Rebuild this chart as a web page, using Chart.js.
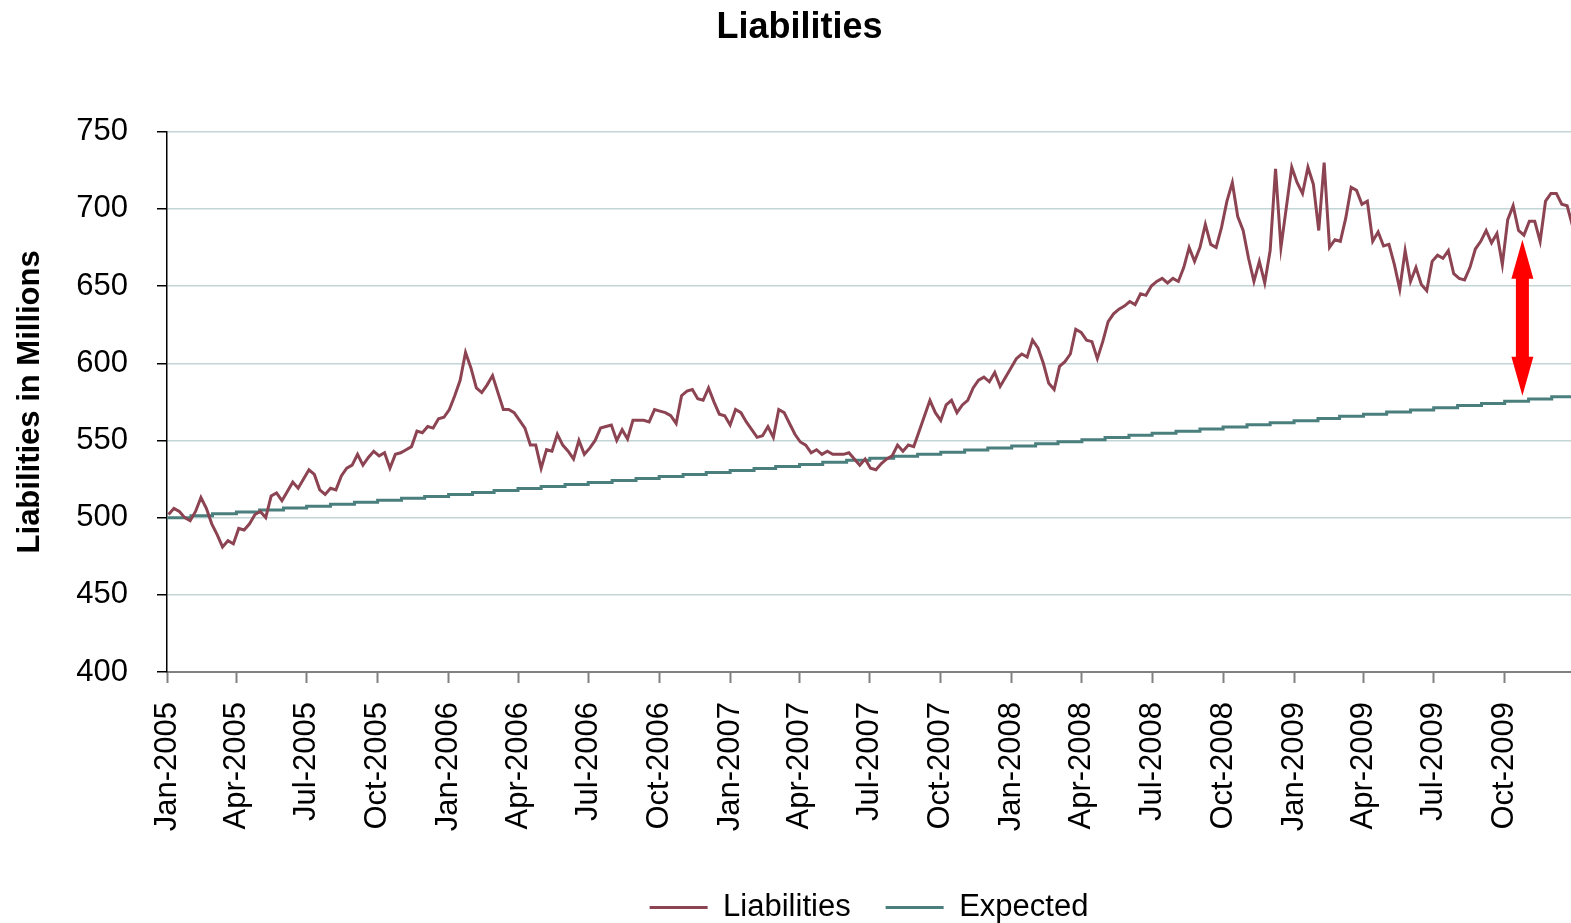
<!DOCTYPE html>
<html lang="en">
<head>
  <meta charset="UTF-8">
  <title>Liabilities</title>
  <script src="https://cdn.jsdelivr.net/npm/chart.js"></script>
  <style>
    html, body { margin: 0; padding: 0; background: #fff; }
    canvas { display: block; }
  </style>
</head>
<body>
  <canvas id="liabChart" width="1571" height="923"></canvas>
  <script>
    // weekly liabilities readings, starting 3 Jan 2005 (one value per week)
    const weekStep = 7;
    const liabilities = [
      502, 506, 504, 500, 498, 504, 513, 506, 496, 489,
      481, 485, 483, 493, 492, 496, 502, 504, 500, 514,
      516, 511, 517, 523, 519, 525, 531, 528, 518, 515,
      519, 518, 527, 532, 534, 541, 534, 539, 543, 540,
      542, 532, 541, 542, 544, 546, 556, 555, 559, 558,
      564, 565, 570, 579, 589, 607, 597, 584, 581, 586,
      592, 581, 570, 570, 568, 563, 558, 547, 547, 532,
      544, 543, 554, 547, 543, 538, 550, 541, 545, 550,
      558, 559, 560, 550, 557, 551, 563, 563, 563, 562,
      570, 569, 568, 566, 561, 579, 582, 583, 577, 576,
      584, 575, 567, 566, 560, 570, 568, 562, 557, 552,
      553, 559, 552, 570, 568, 561, 554, 549, 547, 542,
      544, 541, 543, 541, 541, 541, 542, 538, 534, 538,
      532, 531, 535, 538, 540, 547, 543, 547, 546, 556,
      566, 576, 568, 563, 573, 576, 568, 573, 576, 584,
      589, 591, 588, 594, 585, 591, 597, 603, 606, 604,
      615, 610, 600, 587, 583, 598, 601, 606, 622, 620,
      615, 614, 603, 614, 627, 632, 635, 637, 640, 638,
      645, 644, 650, 653, 655, 652, 655, 653, 662, 675,
      666, 675, 690, 677, 675, 688, 705, 717, 695, 686,
      668, 653, 666, 652, 673, 726, 675, 701, 727, 717,
      710, 727, 716, 686, 730, 675, 680, 679, 694, 714,
      712, 703, 705, 679, 685, 676, 677, 664, 648, 673,
      653, 662, 651, 647, 666, 670, 668, 673, 658, 655,
      654, 662, 674, 679, 686, 678, 684, 664, 693, 702,
      686, 683, 692, 692, 679, 705, 710, 710, 703, 702,
      689
    ];

    // expected liabilities, one value per month from Jan 2005
    const expected = [
      500.0, 501.2, 502.5, 503.7, 504.9, 506.2, 507.4, 508.7, 509.9, 511.2,
      512.5, 513.7, 515.0, 516.3, 517.5, 518.8, 520.1, 521.4, 522.7, 524.0,
      525.3, 526.6, 527.9, 529.2, 530.5, 531.8, 533.1, 534.4, 535.8, 537.1,
      538.4, 539.8, 541.1, 542.4, 543.8, 545.1, 546.4, 547.8, 549.2, 550.5,
      551.9, 553.3, 554.6, 556.0, 557.4, 558.7, 560.1, 561.5, 562.8, 564.2,
      565.6, 567.0, 568.4, 569.8, 571.2, 572.6, 574.0, 575.4, 576.9, 578.3,
      579.7
    ];

    const tickLabels = [
      'Jan-2005', 'Apr-2005', 'Jul-2005', 'Oct-2005',
      'Jan-2006', 'Apr-2006', 'Jul-2006', 'Oct-2006',
      'Jan-2007', 'Apr-2007', 'Jul-2007', 'Oct-2007',
      'Jan-2008', 'Apr-2008', 'Jul-2008', 'Oct-2008',
      'Jan-2009', 'Apr-2009', 'Jul-2009', 'Oct-2009'
    ];

    // red gap arrow: date and the two ends (in millions)
    const arrowDate = [2009, 9, 24];
    const arrowEnds = [579, 680];

    const start = Date.UTC(2005, 0, 1);
    const dayOf = (y, m, d) => (Date.UTC(y, m, d) - start) / 86400000;

    const tickDays = tickLabels.map((_, i) => dayOf(2005, i * 3, 1));
    const liabPoints = liabilities.map((v, i) => ({ x: 2 + i * weekStep, y: v }));
    const expPoints = expected.map((v, i) => ({ x: dayOf(2005, i, 1), y: v }));

    const FONT = 'Liberation Sans, Arial, sans-serif';
    const LIAB_COLOR = '#8C4352';
    const EXP_COLOR = '#4A7F7E';

    const gapArrow = {
      id: 'gapArrow',
      afterDatasetsDraw(chart) {
        const { ctx, scales: { x, y } } = chart;
        const px = x.getPixelForValue(dayOf(...arrowDate));
        const yLow = y.getPixelForValue(arrowEnds[0]);
        const yHigh = y.getPixelForValue(arrowEnds[1]);
        const shaft = 6.5, head = 11, headLen = 39;
        ctx.save();
        ctx.fillStyle = '#FF0000';
        ctx.beginPath();
        ctx.moveTo(px, yHigh);
        ctx.lineTo(px + head, yHigh + headLen);
        ctx.lineTo(px + shaft, yHigh + headLen);
        ctx.lineTo(px + shaft, yLow - headLen);
        ctx.lineTo(px + head, yLow - headLen);
        ctx.lineTo(px, yLow);
        ctx.lineTo(px - head, yLow - headLen);
        ctx.lineTo(px - shaft, yLow - headLen);
        ctx.lineTo(px - shaft, yHigh + headLen);
        ctx.lineTo(px - head, yHigh + headLen);
        ctx.closePath();
        ctx.fill();
        ctx.restore();
      }
    };

    new Chart(document.getElementById('liabChart'), {
      type: 'line',
      data: {
        datasets: [
          {
            label: 'Liabilities',
            data: liabPoints,
            borderColor: LIAB_COLOR,
            backgroundColor: LIAB_COLOR,
            borderWidth: 3,
            pointRadius: 0,
            tension: 0
          },
          {
            label: 'Expected',
            data: expPoints,
            borderColor: EXP_COLOR,
            backgroundColor: EXP_COLOR,
            borderWidth: 3,
            pointRadius: 0,
            stepped: 'before'
          }
        ]
      },
      options: {
        responsive: false,
        animation: false,
        layout: { padding: { left: 28, right: 0, top: 0, bottom: -10 } },
        plugins: {
          title: {
            display: true,
            text: 'Liabilities',
            color: '#000',
            font: { family: FONT, size: 36, weight: 'bold' },
            padding: { top: 6, bottom: 82.5 }
          },
          legend: {
            position: 'bottom',
            fullSize: false,
            labels: {
              color: '#000',
              font: { family: FONT, size: 31 },
              boxWidth: 58,
              boxHeight: 3,
              padding: 35,
              generateLabels: (chart) => chart.data.datasets.map((ds, i) => ({
                text: ds.label,
                fillStyle: ds.borderColor,
                strokeStyle: ds.borderColor,
                lineWidth: 0,
                datasetIndex: i
              }))
            }
          },
          tooltip: { enabled: false }
        },
        scales: {
          x: {
            type: 'linear',
            min: 0,
            max: 1820,
            afterBuildTicks: (scale) => { scale.ticks = tickDays.map(v => ({ value: v })); },
            afterFit: (scale) => { scale.height = 185; },
            ticks: {
              autoSkip: false,
              minRotation: 90,
              maxRotation: 90,
              padding: 19,
              color: '#000',
              font: { family: FONT, size: 31 },
              callback: (value, index) => tickLabels[index]
            },
            grid: { drawOnChartArea: false, drawTicks: true, tickLength: 11, tickColor: '#808080', tickWidth: 2 },
            border: { color: '#808080', width: 2 }
          },
          y: {
            min: 400,
            max: 750,
            afterFit: (scale) => { scale.width = 139; },
            ticks: {
              stepSize: 50,
              padding: 29,
              color: '#000',
              font: { family: FONT, size: 31 }
            },
            grid: { color: '#C3D5D5', lineWidth: 1.5, tickLength: 10, tickColor: '#000' },
            border: { color: '#000', width: 1.5 },
            title: {
              display: true,
              text: 'Liabilities in Millions',
              color: '#000',
              font: { family: FONT, size: 31, weight: 'bold' },
              padding: { top: -16, bottom: 0 }
            }
          }
        }
      },
      plugins: [gapArrow]
    });
  </script>
</body>
</html>
